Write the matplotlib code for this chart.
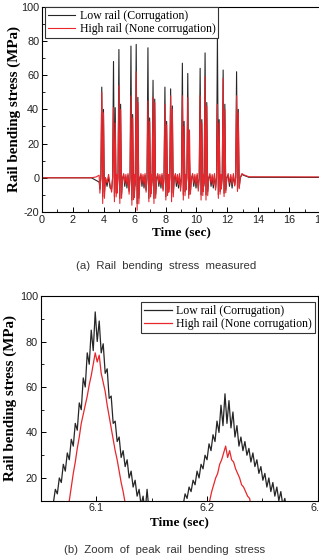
import numpy as np
import matplotlib.pyplot as plt
from matplotlib.ticker import MultipleLocator

# ---------------- (a) whole passage ----------------
# time of first axle peak of every bogie (s)
bogie_t = [3.87, 4.63, 4.98, 5.76, 6.10, 6.86, 7.19, 7.96,
           8.33, 9.09, 9.44, 10.24, 10.56, 11.36, 11.73, 12.60]
low_peak1 = [53, 68, 75, 77, 78, 76, 57, 53, 52, 67, 61, 64, 73, 84, 63, 62]
low_peak2 = [40, 41, 43, 37, 47, 35, 46, 33, 42, 33, 11, 34, 44, 34, 43, 40]
high_peak1 = [50, 41, 54, 48, 62, 45, 47, 43, 48, 48, 47, 48, 59, 43, 58, 48]
high_peak2 = [38, 32, 40, 35, 44, 33, 44, 31, 40, 30, 28, 32, 42, 32, 40, 38]
low_trough = [-11, -11, -12, -13, -15, -12, -12, -11, -11, -10, -10, -10, -10, -10, -9, -7]
high_trough = [-15, -14, -15, -16, -19, -14, -15, -13, -14, -13, -12, -13, -13, -12, -11, -8]
# wiggle between bogies
low_gap = [1.5, -5, 0.5, -6, 1.5]
high_gap = [2.5, -3, 2, -4, 2.5]
# approach / departure of the train
pre_t = [0.0, 3.2, 3.5, 3.7]
low_pre = [0.0, 0.0, -1.5, -2.5]
high_pre = [0.0, 0.0, 0.5, 1.5]
post_t = [12.95, 13.05, 13.4, 18.5]
low_post = [2.0, 1.5, 0.3, 0.2]
high_post = [2.5, 1.8, 0.6, 0.5]

# ---------------- (b) zoom on two peaks ----------------
zoom_step = 0.0018
low_z1_start = 6.0614
low_z1 = [9, 15, 13, 20, 18, 26, 23, 31, 28, 37, 34, 44, 41, 53, 50, 64, 60, 75,
          70, 85, 76, 93, 80, 89, 75, 79, 66, 68, 55, 56, 44, 45, 36, 38, 29, 32,
          25, 28, 20, 23, 16, 19, 12, 15, 8, 12, 5, 15, 5]
high_z1_start = 6.0740
high_z1 = [5, 10, 16, 22, 27, 33, 38, 44, 48, 52, 56, 61, 65, 70, 75, 71, 74,
           66, 62, 58, 52, 47, 42, 37, 32, 28, 23, 18, 14, 9, 4]
low_z2_start = 6.1785
low_z2 = [8, 13, 11, 16, 14, 19, 17, 23, 20, 26, 24, 30, 28, 35, 32, 39, 36, 45,
          40, 52, 43, 57, 44, 54, 42, 49, 38, 43, 34, 38, 32, 36, 30, 33, 27, 31,
          25, 28, 22, 25, 19, 22, 16, 20, 14, 18, 12, 16, 10, 14, 8, 11, 6]
high_z2_start = 6.2007
high_z2 = [6, 10, 14, 17, 20, 22, 26, 28, 31, 34, 29, 32, 28, 27, 24, 22, 20,
           17, 16, 14, 12, 11, 7]


def build_passage(pre, peak1, peak2, trough, gap, post):
    t = list(pre_t)
    y = list(pre)
    for i, tb in enumerate(bogie_t):
        t += [tb - 0.12, tb - 0.06, tb, tb + 0.06, tb + 0.11, tb + 0.17, tb + 0.24]
        y += [0.6 * trough[i], 0.0, peak1[i], trough[i], peak2[i], 0.8 * trough[i], 0.0]
        if i + 1 < len(bogie_t):
            a, b = tb + 0.24, bogie_t[i + 1] - 0.12
            g = gap if b - a > 0.4 else gap[1:4]
            tt = np.linspace(a, b, len(g) + 2)[1:-1]
            t += list(tt)
            y += list(g)
    t += post_t
    y += post
    return np.array(t), np.array(y)


t_low, y_low = build_passage(low_pre, low_peak1, low_peak2, low_trough, low_gap, low_post)
t_high, y_high = build_passage(high_pre, high_peak1, high_peak2, high_trough, high_gap, high_post)

tz_low = np.concatenate([low_z1_start + zoom_step * np.arange(len(low_z1)),
                         low_z2_start + zoom_step * np.arange(len(low_z2))])
yz_low = np.array(low_z1 + low_z2, dtype=float)
tz_high = np.concatenate([high_z1_start + zoom_step * np.arange(len(high_z1)),
                          high_z2_start + zoom_step * np.arange(len(high_z2))])
yz_high = np.array(high_z1 + high_z2, dtype=float)

BLACK = '#262626'
RED = '#e8262b'
labels = ['Low rail (Corrugation)', 'High rail (None corrugation)']

plt.rcParams['font.family'] = 'Liberation Sans'
plt.rcParams['axes.unicode_minus'] = False
plt.rcParams['xtick.direction'] = 'in'
plt.rcParams['ytick.direction'] = 'in'

fig = plt.figure(figsize=(3.19, 5.60), dpi=100)

xlab_font = dict(family='Liberation Serif', weight='bold', size=9.5)
ylab_font = dict(family='Liberation Serif', weight='bold', size=10.8)
leg_font = dict(family='Liberation Serif', size=8.5)


def style(ax):
    ax.tick_params(which='major', length=3.5, width=0.7, labelsize=7.8, pad=2,
                   labelcolor='#222222')
    ax.tick_params(which='minor', length=2, width=0.6)
    for s in ax.spines.values():
        s.set_linewidth(0.8)


# ---- panel (a)
ax1 = fig.add_axes([0.1317, 0.6214, 0.8713, 0.3666])
ax1.plot(t_low, y_low, color=BLACK, lw=0.8, label=labels[0])
ax1.plot(t_high, y_high, color=RED, lw=0.8, label=labels[1])
ax1.set_xlim(0, 18)
ax1.set_ylim(-20, 100)
ax1.xaxis.set_major_locator(MultipleLocator(2))
ax1.xaxis.set_minor_locator(MultipleLocator(1))
ax1.yaxis.set_major_locator(MultipleLocator(20))
ax1.yaxis.set_minor_locator(MultipleLocator(10))
style(ax1)
ax1.set_xlabel('Time (sec)', fontdict=xlab_font, labelpad=1)
ax1.set_ylabel('Rail bending stress (MPa)', fontdict=ylab_font, labelpad=0)
leg = ax1.legend(loc='upper left', bbox_to_anchor=(0.01, 1.0), borderaxespad=0,
                 prop=leg_font, fancybox=False, framealpha=1, edgecolor='#333333',
                 handlelength=2.3, handletextpad=0.4, labelspacing=0.1, borderpad=0.25)
leg.get_frame().set_linewidth(0.8)
fig.text(0.52, 0.525, '(a)  Rail  bending  stress  measured', ha='center', va='center',
         fontsize=8.2, color='#333333')

# ---- panel (b)
ax2 = fig.add_axes([0.1276, 0.1059, 0.8684, 0.3655])
ax2.plot(tz_low, yz_low, color=BLACK, lw=0.9, label=labels[0])
ax2.plot(tz_high, yz_high, color=RED, lw=0.9, label=labels[1])
ax2.set_xlim(6.05, 6.30)
ax2.set_ylim(10, 100)
ax2.xaxis.set_major_locator(MultipleLocator(0.1))
ax2.xaxis.set_minor_locator(MultipleLocator(0.05))
ax2.yaxis.set_major_locator(MultipleLocator(20))
ax2.yaxis.set_minor_locator(MultipleLocator(10))
style(ax2)
ax2.set_xlabel('Time (sec)', fontdict=xlab_font, labelpad=2)
ax2.set_ylabel('Rail bending stress (MPa)', fontdict=ylab_font, labelpad=2)
leg2 = ax2.legend(loc='upper right', bbox_to_anchor=(0.99, 0.972), borderaxespad=0,
                  prop=leg_font, fancybox=False, framealpha=1, edgecolor='#333333',
                  handlelength=2.3, handletextpad=0.4, labelspacing=0.1, borderpad=0.25)
leg2.get_frame().set_linewidth(0.8)
fig.text(0.517, 0.018, '(b)  Zoom  of  peak  rail  bending  stress', ha='center', va='center',
         fontsize=8.2, color='#333333')

fig.savefig('out.png', dpi=100)
